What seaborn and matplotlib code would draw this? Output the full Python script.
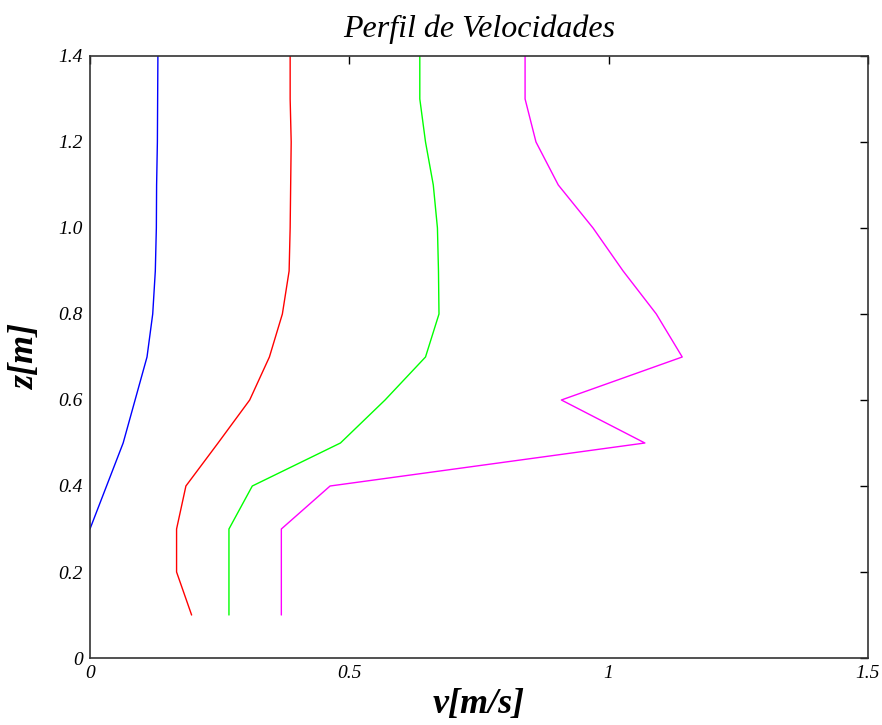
import matplotlib
matplotlib.use("Agg")
import matplotlib.pyplot as plt
import pandas as pd
import seaborn as sns

# Heights (m) and velocity profiles (m/s)
z_full = [0.1, 0.2, 0.3, 0.4, 0.5, 0.6, 0.7, 0.8, 0.9, 1.0, 1.1, 1.2, 1.3, 1.4]
z_blue = [0.3, 0.4, 0.5, 0.6, 0.7, 0.8, 0.9, 1.0, 1.1, 1.2, 1.3, 1.4]

v_blue = [0.0, 0.032, 0.064, 0.087, 0.110, 0.121, 0.126, 0.128, 0.1285, 0.13, 0.1305, 0.131]
v_red = [0.196, 0.167, 0.167, 0.185, 0.247, 0.308, 0.346, 0.371, 0.384, 0.386, 0.387, 0.388, 0.386, 0.386]
v_green = [0.268, 0.268, 0.268, 0.313, 0.483, 0.569, 0.647, 0.673, 0.672, 0.670, 0.662, 0.647, 0.636, 0.636]
v_magenta = [0.369, 0.369, 0.369, 0.463, 1.070, 0.909, 1.142, 1.092, 1.028, 0.970, 0.903, 0.860, 0.839, 0.839]

series_names = ["s1", "s2", "s3", "s4"]
series_colors = ["#0000ff", "#ff0000", "#00ff00", "#ff00ff"]

x_ticks = [0, 0.5, 1, 1.5]
x_tick_labels = ["0", "0.5", "1", "1.5"]
y_ticks = [0, 0.2, 0.4, 0.6, 0.8, 1.0, 1.2, 1.4]
y_tick_labels = ["0", "0.2", "0.4", "0.6", "0.8", "1.0", "1.2", "1.4"]

frames = []
for name, z, v in zip(series_names, [z_blue, z_full, z_full, z_full],
                      [v_blue, v_red, v_green, v_magenta]):
    frames.append(pd.DataFrame({"serie": name, "z": z, "v": v}))
data = pd.concat(frames, ignore_index=True)

sns.set_style("white")
plt.rcParams["font.family"] = ["Liberation Serif", "DejaVu Serif"]
plt.rcParams["text.color"] = "black"
plt.rcParams["axes.labelcolor"] = "black"

fig = plt.figure(figsize=(8.82, 7.25), dpi=100)
ax = fig.add_axes([0.102, 0.0924, 0.882, 0.8304])

sns.lineplot(data=data, x="v", y="z", hue="serie", palette=dict(zip(series_names, series_colors)),
             sort=False, estimator=None, linewidth=1.0, legend=False, ax=ax)

ax.set_xlim(0, 1.5)
ax.set_ylim(0, 1.4)
ax.set_xticks(x_ticks)
ax.set_xticklabels(x_tick_labels)
ax.set_yticks(y_ticks)
ax.set_yticklabels(y_tick_labels)
ax.tick_params(direction="in", length=6, width=1, top=True, right=True,
               labelsize=14, colors="black", pad=5)
for lab in ax.get_xticklabels() + ax.get_yticklabels():
    lab.set_fontstyle("italic")
for sp in ax.spines.values():
    sp.set_color("#333333")
    sp.set_linewidth(1.2)

ax.set_title("Perfil de Velocidades", fontsize=23, fontstyle="italic", pad=14, color="black")
ax.set_xlabel("v[m/s]", fontsize=26, fontstyle="italic", fontweight="bold", labelpad=4)
ax.set_ylabel("z[m]", fontsize=26, fontstyle="italic", fontweight="bold", labelpad=12)

fig.savefig("out.png", dpi=100)
